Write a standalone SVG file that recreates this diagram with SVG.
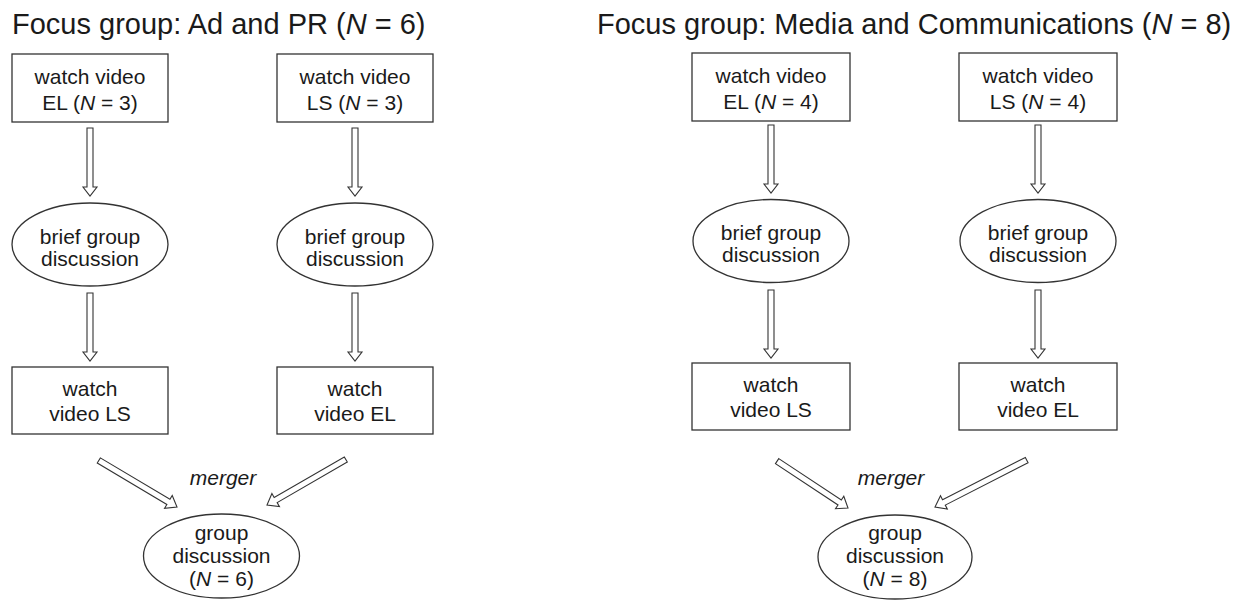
<svg xmlns="http://www.w3.org/2000/svg" xmlns:xlink="http://www.w3.org/1999/xlink" width="1236" height="602" viewBox="0 0 1236 602">
<style>
.t{font-family:"Liberation Sans",Arial,sans-serif;fill:#1a1a1a}
.title{font-size:29px}
.lbl{font-size:21px;text-anchor:middle}
.it{font-style:italic}
.box{fill:#fff;stroke:#333;stroke-width:1.3}
.arr{fill:#fff;stroke:#333;stroke-width:1.1;stroke-linejoin:miter}
</style>
<defs>
<path id="varr" d="M-68,-3 L-9,-3 L-9,-7 L0,0 L-9,7 L-9,3 L-68,3 Z"/>
<path id="darr" d="M-91,-3 L-10,-3 L-10,-7.5 L0,0 L-10,7.5 L-10,3 L-91,3 Z"/>
<path id="darr85" d="M-85,-3 L-10,-3 L-10,-7.5 L0,0 L-10,7.5 L-10,3 L-85,3 Z"/>
<path id="darr103" d="M-103,-3 L-10,-3 L-10,-7.5 L0,0 L-10,7.5 L-10,3 L-103,3 Z"/>
</defs>
<rect width="1236" height="602" fill="#fff"/>
<text class="t title" x="12" y="34">Focus group: Ad and PR (<tspan class="it">N</tspan> = 6)</text>
<text class="t title" x="597" y="34">Focus group: Media and Communications (<tspan class="it">N</tspan> = 8)</text>

<g id="connectors" class="arr">
<use xlink:href="#varr" transform="translate(90,196) rotate(90)"/>
<use xlink:href="#varr" transform="translate(90,361) rotate(90)"/>
<use xlink:href="#varr" transform="translate(355,196) rotate(90)"/>
<use xlink:href="#varr" transform="translate(355,361) rotate(90)"/>
<use xlink:href="#darr" transform="translate(177,507) rotate(30.75)"/>
<use xlink:href="#darr" transform="translate(267,505) rotate(150)"/>
<use xlink:href="#varr" transform="translate(771,193) rotate(90)"/>
<use xlink:href="#varr" transform="translate(771,358) rotate(90)"/>
<use xlink:href="#varr" transform="translate(1038,193) rotate(90)"/>
<use xlink:href="#varr" transform="translate(1038,358) rotate(90)"/>
<use xlink:href="#darr85" transform="translate(848,508) rotate(33.5)"/>
<use xlink:href="#darr103" transform="translate(935,507) rotate(152.9)"/>
</g>

<g id="a-watch-el">
<rect class="box" x="12" y="54" width="156" height="68"/>
<text class="t lbl" x="90" y="84">watch video</text>
<text class="t lbl" x="90" y="110">EL (<tspan class="it">N</tspan> = 3)</text>
</g>
<g id="a-watch-ls">
<rect class="box" x="277" y="54" width="156" height="68"/>
<text class="t lbl" x="355" y="84">watch video</text>
<text class="t lbl" x="355" y="110">LS (<tspan class="it">N</tspan> = 3)</text>
</g>
<g id="a-brief-1">
<ellipse class="box" cx="90" cy="244.5" rx="78" ry="41.5"/>
<text class="t lbl" x="90" y="244">brief group</text>
<text class="t lbl" x="90" y="266">discussion</text>
</g>
<g id="a-brief-2">
<ellipse class="box" cx="355" cy="244.5" rx="78" ry="41.5"/>
<text class="t lbl" x="355" y="244">brief group</text>
<text class="t lbl" x="355" y="266">discussion</text>
</g>
<g id="a-watch-ls2">
<rect class="box" x="12" y="367" width="156" height="67"/>
<text class="t lbl" x="90" y="396">watch</text>
<text class="t lbl" x="90" y="421">video LS</text>
</g>
<g id="a-watch-el2">
<rect class="box" x="277" y="367" width="156" height="67"/>
<text class="t lbl" x="355" y="396">watch</text>
<text class="t lbl" x="355" y="421">video EL</text>
</g>
<text id="a-merger" class="t lbl it" x="223" y="485">merger</text>
<g id="a-group">
<ellipse class="box" cx="221.5" cy="556" rx="78" ry="42"/>
<text class="t lbl" x="221.5" y="540">group</text>
<text class="t lbl" x="221.5" y="563">discussion</text>
<text class="t lbl" x="221.5" y="586">(<tspan class="it">N</tspan> = 6)</text>
</g>

<g id="b-watch-el">
<rect class="box" x="692" y="53" width="158" height="68"/>
<text class="t lbl" x="771" y="83">watch video</text>
<text class="t lbl" x="771" y="109">EL (<tspan class="it">N</tspan> = 4)</text>
</g>
<g id="b-watch-ls">
<rect class="box" x="959" y="53" width="158" height="68"/>
<text class="t lbl" x="1038" y="83">watch video</text>
<text class="t lbl" x="1038" y="109">LS (<tspan class="it">N</tspan> = 4)</text>
</g>
<g id="b-brief-1">
<ellipse class="box" cx="771" cy="241" rx="78" ry="41.5"/>
<text class="t lbl" x="771" y="240">brief group</text>
<text class="t lbl" x="771" y="262">discussion</text>
</g>
<g id="b-brief-2">
<ellipse class="box" cx="1038" cy="241" rx="78" ry="41.5"/>
<text class="t lbl" x="1038" y="240">brief group</text>
<text class="t lbl" x="1038" y="262">discussion</text>
</g>
<g id="b-watch-ls2">
<rect class="box" x="692" y="363" width="158" height="67"/>
<text class="t lbl" x="771" y="392">watch</text>
<text class="t lbl" x="771" y="417">video LS</text>
</g>
<g id="b-watch-el2">
<rect class="box" x="959" y="363" width="158" height="67"/>
<text class="t lbl" x="1038" y="392">watch</text>
<text class="t lbl" x="1038" y="417">video EL</text>
</g>
<text id="b-merger" class="t lbl it" x="891" y="485">merger</text>
<g id="b-group">
<ellipse class="box" cx="895" cy="557" rx="77" ry="42"/>
<text class="t lbl" x="895" y="540">group</text>
<text class="t lbl" x="895" y="563">discussion</text>
<text class="t lbl" x="895" y="586">(<tspan class="it">N</tspan> = 8)</text>
</g>
</svg>
